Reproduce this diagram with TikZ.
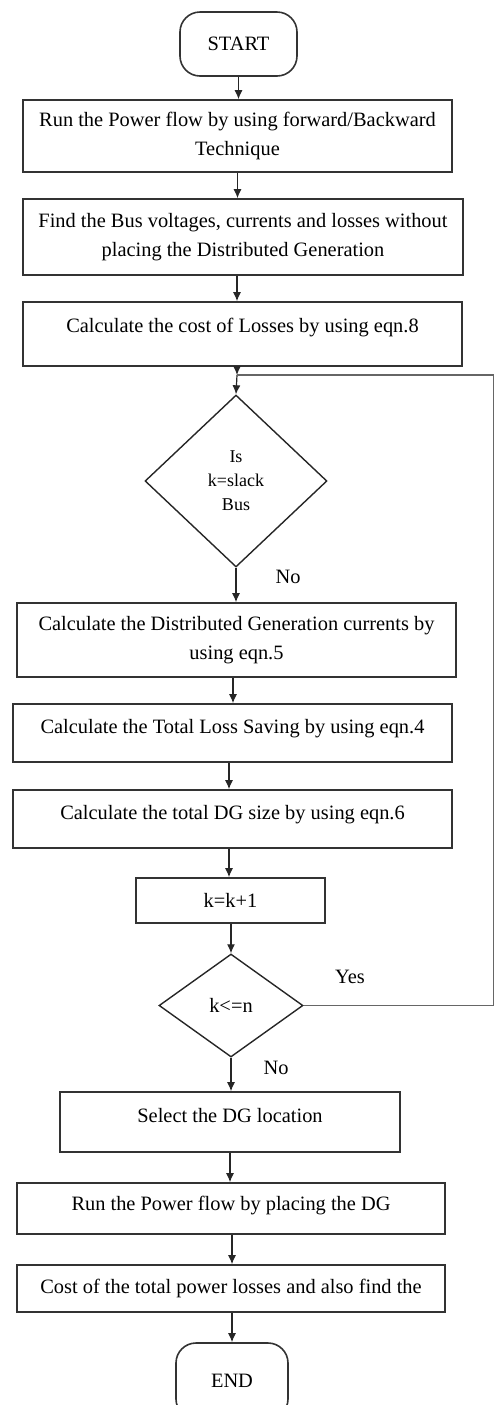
\documentclass[tikz,border=0pt]{standalone}
\usepackage{fontspec}
\setmainfont{Liberation Serif}
\usetikzlibrary{shapes.geometric, arrows.meta}

\begin{document}
\begin{tikzpicture}[x=0.5pt, y=-0.5pt,
    font=\fontsize{10.2}{14.2}\selectfont,
    box/.style={draw=black!80, line width=0.8pt, inner sep=0pt, align=center},
    term/.style={box, rounded corners=10pt},
    cond/.style={diamond, draw=black!85, line width=0.7pt, inner sep=0pt, align=center},
    arr/.style={draw=black!85, line width=0.6pt, -{Latex[length=4.5pt,width=4pt]}},
    loopline/.style={draw=black!60, line width=0.7pt},
    lbl/.style={inner sep=0pt}]
    \useasboundingbox (0,0) rectangle (494,1405);
    \clip (0,0) rectangle (494,1405);

    % Start and load flow
    \node[term, minimum width=58.5pt, minimum height=32pt] (start) at (238.5,44) {START};
    \node[box, minimum width=214.5pt, minimum height=36pt] (runpf) at (237.5,136)
        {Run the Power flow by using forward/Backward\\Technique};
    \node[box, minimum width=220pt, minimum height=38pt] (findbus) at (243,237)
        {Find the Bus voltages, currents and losses without\\placing the Distributed Generation};
    \node[box, minimum width=219.5pt, minimum height=32pt, text depth=9pt] (losscost) at (242.5,334)
        {Calculate the cost of Losses by using eqn.8};

    % Slack bus test
    \coordinate (join) at (237,375);
    \coordinate (edge) at (493.5,375);
    \node[cond, minimum width=91pt, minimum height=86pt,
          font=\fontsize{9}{12}\selectfont] (slack) at (236,481) {Is\\k=slack\\Bus};
    \node[lbl] (no1) at (288,577) {No};

    % DG sizing loop
    \node[box, minimum width=219.5pt, minimum height=37pt] (dgcur) at (236.5,640)
        {Calculate the Distributed Generation currents by\\using eqn.5};
    \node[box, minimum width=219.5pt, minimum height=29pt, text depth=7pt] (saving) at (232.5,733)
        {Calculate the Total Loss Saving by using eqn.4};
    \node[box, minimum width=219.5pt, minimum height=29pt, text depth=7pt] (dgsize) at (232.5,819)
        {Calculate the total DG size by using eqn.6};
    \node[box, minimum width=94.5pt, minimum height=22.5pt] (incr) at (230.5,900.5) {k=k+1};
    \node[cond, minimum width=72pt, minimum height=51.5pt] (kcheck) at (231,1005.5) {k<=n};
    \node[lbl] (yes) at (350,977) {Yes};
    \node[lbl] (no2) at (276,1068) {No};

    % Placement and end
    \node[box, minimum width=170pt, minimum height=30pt, text depth=7pt] (select) at (230,1122)
        {Select the DG location};
    \node[box, minimum width=214pt, minimum height=25.5pt, text depth=5.5pt] (rundg) at (231,1208.5)
        {Run the Power flow by placing the DG};
    \node[box, minimum width=214pt, minimum height=23.5pt] (final) at (231,1288.5)
        {Cost of the total power losses and also find the};
    \node[term, minimum width=56pt, minimum height=38pt] (stop) at (232,1381) {END};

    % Connectors
    \draw[arr] (start) -- (start |- runpf.north);
    \draw[arr] (runpf) -- (runpf |- findbus.north);
    \draw[arr] (findbus.south -| join) -- (join |- losscost.north);
    \draw[arr] (losscost.south -| join) -- (join);
    \draw[arr] (join) -- (slack.north);
    \draw[arr] (slack.south) -- (slack.south |- dgcur.north);
    \draw[arr] (dgcur.south -| 233,0) -- (233,0 |- saving.north);
    \draw[arr] (saving.south -| 229,0) -- (229,0 |- dgsize.north);
    \draw[arr] (dgsize.south -| 229,0) -- (229,0 |- incr.north);
    \draw[arr] (incr.south -| kcheck) -- (kcheck.north);
    \draw[arr] (kcheck.south) -- (kcheck.south |- select.north);
    \draw[arr] (select) -- (select |- rundg.north);
    \draw[arr] (rundg.south -| 232,0) -- (232,0 |- final.north);
    \draw[arr] (final.south -| 232,0) -- (232,0 |- stop.north);

    % Loop back
    \draw[loopline] (kcheck.east) -| (edge) -- (join);
\end{tikzpicture}
\end{document}
